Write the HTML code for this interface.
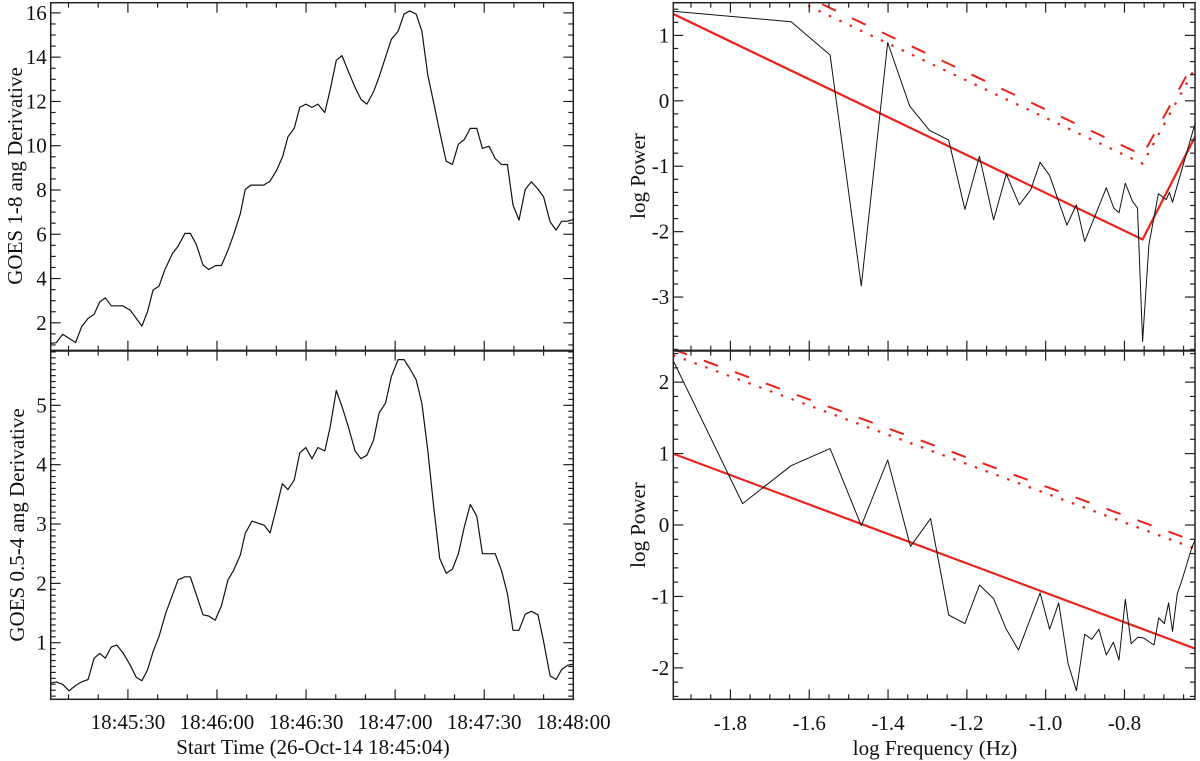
<!DOCTYPE html>
<html><head><meta charset="utf-8"><style>
body{margin:0;background:#fff}
svg{display:block;font-family:"Liberation Serif",serif}
</style></head><body>
<svg id="fig" width="1200" height="761" viewBox="0 0 1200 761" xmlns="http://www.w3.org/2000/svg"></svg>
<script>
// ---- data ----
const timeA = [4,5.9,8,12.4,14.4,16.6,18.6,20.5,22.4,24.4,28.2,30.8,34.7,36.6,38.5,40.5,42.4,45,46.9,49.2,51,53,55.3,57.2,59.6,61.5,63.7,65.6,67.9,69.5,71.4,75.7,77.9,80,82.1,83.9,86,87.9,89.9,92,94,96.3,98.1,100.2,102.1,104.3,106.5,108.5,110.5,112.7,114.6,116.8,118.7,121,123,124.9,127.1,129,131,133,135,137.2,139.3,141.3,143.3,145.3,147.5,149.4,151.6,153.7,155.8,157.8,159.7,161.7,163.8,165.9,168.1,170,172.2,174.2,176.1,178,180];
const goes18 = [1.07,1.1,1.48,1.11,1.82,2.2,2.38,2.94,3.13,2.77,2.77,2.57,1.85,2.5,3.48,3.66,4.38,5.13,5.46,6.04,6.04,5.55,4.61,4.41,4.59,4.59,5.28,5.98,6.94,8.02,8.22,8.22,8.4,8.87,9.5,10.4,10.78,11.73,11.88,11.73,11.88,11.5,12.51,13.86,14.07,13.34,12.63,12.09,11.88,12.43,13.11,14.01,14.8,15.17,15.94,16.09,15.94,15.17,13.19,11.94,10.63,9.3,9.15,10.07,10.28,10.78,10.78,9.88,9.98,9.42,9.15,9.15,7.32,6.64,8.02,8.37,8.04,7.69,6.56,6.19,6.59,6.59,6.67];
const timeB = [4,5.9,8,10.2,12.4,14.4,16.6,18.6,20.5,22.4,24.4,26.3,28.5,30.8,32.8,34.7,36.6,38.5,40.5,42.7,45,46.9,49.2,51,53.1,55.3,57.2,59.4,61.5,63.7,65.6,67.9,69.5,71.8,74,75.9,77.9,79.8,82,83.9,86,87.9,89.9,92,94,96.3,98.1,100.2,102.1,104.3,106.5,108.5,110.5,112.7,114.6,116.8,118.7,121,123,124.9,127.1,129,131,133,135,137.2,139.3,141.3,143.3,145.3,147.5,149.4,153.7,155.8,157.8,159.7,161.7,163.8,165.9,168.1,170,172.2,174.2,176.1,178,180];
const goes054 = [0.32,0.34,0.30,0.19,0.28,0.34,0.38,0.74,0.82,0.74,0.93,0.96,0.82,0.62,0.42,0.36,0.54,0.85,1.11,1.49,1.80,2.06,2.11,2.11,1.80,1.47,1.45,1.38,1.62,2.06,2.22,2.48,2.84,3.05,3.01,2.98,2.85,3.23,3.68,3.58,3.74,4.2,4.29,4.1,4.29,4.23,4.63,5.25,4.98,4.63,4.23,4.1,4.16,4.41,4.87,5.04,5.48,5.77,5.77,5.62,5.43,5.03,4.24,3.29,2.42,2.17,2.24,2.5,2.95,3.33,3.13,2.5,2.5,2.22,1.83,1.21,1.21,1.48,1.53,1.47,1.02,0.44,0.38,0.55,0.62,0.64];
const freqA = [-1.946,-1.646,-1.547,-1.468,-1.401,-1.345,-1.295,-1.246,-1.205,-1.168,-1.132,-1.100,-1.067,-1.038,-1.014,-0.990,-0.946,-0.922,-0.901,-0.846,-0.827,-0.814,-0.798,-0.780,-0.767,-0.754,-0.738,-0.714,-0.694,-0.686,-0.678,-0.621];
const powA = [1.37,1.21,0.70,-2.83,0.89,-0.08,-0.45,-0.60,-1.66,-0.85,-1.82,-1.12,-1.59,-1.36,-0.94,-1.14,-1.90,-1.59,-2.15,-1.33,-1.64,-1.71,-1.26,-1.53,-1.64,-3.68,-2.20,-1.42,-1.51,-1.40,-1.55,-0.35];
const fitFreqA = [-1.946,-0.754,-0.621];
const fitA = [1.33,-2.12,-0.55];
const conf99A = [2.55,-0.83,0.62];
const conf95A = [2.43,-0.96,0.50];
const freqB = [-1.946,-1.769,-1.646,-1.547,-1.468,-1.401,-1.343,-1.292,-1.246,-1.205,-1.168,-1.132,-1.100,-1.069,-1.014,-0.990,-0.967,-0.943,-0.922,-0.901,-0.883,-0.865,-0.846,-0.828,-0.814,-0.798,-0.783,-0.766,-0.752,-0.725,-0.713,-0.699,-0.688,-0.678,-0.666,-0.654,-0.630,-0.621];
const powB = [2.31,0.30,0.83,1.07,-0.01,0.91,-0.30,0.09,-1.26,-1.38,-0.84,-1.03,-1.46,-1.75,-0.95,-1.46,-1.09,-1.94,-2.32,-1.53,-1.60,-1.46,-1.82,-1.64,-1.89,-1.04,-1.66,-1.57,-1.58,-1.68,-1.30,-1.38,-1.09,-1.49,-0.96,-0.77,-0.33,-0.21];
const fitFreqB = [-1.946,-0.621];
const fitB = [1.00,-1.73];
const conf99B = [2.46,-0.23];
const conf95B = [2.38,-0.33];
const timeTicks = [30,60,90,120,150,180];
const timeTickLabels = ["18:45:30","18:46:00","18:46:30","18:47:00","18:47:30","18:48:00"];
const freqTicks = [-1.8,-1.6,-1.4,-1.2,-1.0,-0.8];
const freqTickLabels = ["-1.8","-1.6","-1.4","-1.2","-1.0","-0.8"];

const NS="http://www.w3.org/2000/svg";
const svg=document.getElementById('fig');
function mk(tag,attrs,parent){const e=document.createElementNS(NS,tag);for(const k in attrs)e.setAttribute(k,attrs[k]);(parent||svg).appendChild(e);return e;}
let clipN=0;
function panel(name,x0,x1,y0,y1,xmin,xmax,ymin,ymax){
  const g=mk('g',{});
  
  
  const sx=v=>x0+(v-xmin)/(xmax-xmin)*(x1-x0);
  const sy=v=>y1-(v-ymin)/(ymax-ymin)*(y1-y0);
  const id='c'+(clipN++);
  const cp=mk('clipPath',{id:id},g);mk('rect',{x:x0,y:y0,width:x1-x0,height:y1-y0},cp);
  return {g,sx,sy,x0,x1,y0,y1,xmin,xmax,ymin,ymax,clip:'url(#'+id+')'};
}
function frame(p){
  const r=mk('rect',{x:p.x0,y:p.y0,width:p.x1-p.x0,height:p.y1-p.y0,fill:'none',stroke:'#222','stroke-width':1.5},p.g);
  
  
}
function yticks(p,major,minor,labels){
  const s=Math.ceil(p.ymin/minor-1e-6);
  for(let k=s;k*minor<=p.ymax+1e-9;k++){
    const v=k*minor;const y=p.sy(v);
    const isMaj=Math.abs(v/major-Math.round(v/major))<1e-6;
    const L=isMaj?10:5;
    mk('line',{x1:p.x0,x2:p.x0+L,y1:y,y2:y,stroke:'#222','stroke-width':1.2},p.g);
    mk('line',{x1:p.x1,x2:p.x1-L,y1:y,y2:y,stroke:'#222','stroke-width':1.2},p.g);
  }
  labels.forEach(l=>{
    const t=mk('text',{x:p.x0-4,y:p.sy(l.v)+7,'text-anchor':'end','font-size':21,fill:'#111'},p.g);
    t.textContent=l.t;
    
    
  });
}
function xticks(p,majors,minor){
  const s=Math.ceil(p.xmin/minor-1e-6);
  for(let k=s;k*minor<=p.xmax+1e-9;k++){
    const v=k*minor;const x=p.sx(v);
    const isMaj=majors.some(m=>Math.abs(m-v)<1e-6);
    const L=isMaj?10:5;
    mk('line',{x1:x,x2:x,y1:p.y1,y2:p.y1-L,stroke:'#222','stroke-width':1.2},p.g);
    mk('line',{x1:x,x2:x,y1:p.y0,y2:p.y0+L,stroke:'#222','stroke-width':1.2},p.g);
  }
}
function xlabels(p,vals,labels,y){
  vals.forEach((v,i)=>{
    const t=mk('text',{x:p.sx(v),y:y,'text-anchor':'middle','font-size':21,fill:'#111'},p.g);
    t.textContent=labels[i];
    
    
  });
}
function line(p,xs,ys,attrs,name){
  const pts=xs.map((x,i)=>p.sx(x).toFixed(1)+','+p.sy(ys[i]).toFixed(1)).join(' ');
  const a=Object.assign({points:pts,fill:'none','clip-path':p.clip,'stroke-linejoin':'round'},attrs);
  const e=mk('polyline',a,p.g);
  
  
}
function ytitle(x,y,txt,name){
  const t=mk('text',{x:x,y:y,'text-anchor':'middle','font-size':21,fill:'#111',transform:'rotate(-90 '+x+' '+y+')'});
  t.textContent=txt;
  
  
}
function xtitle(x,y,txt,name){
  const t=mk('text',{x:x,y:y,'text-anchor':'middle','font-size':21,fill:'#111'});
  t.textContent=txt;
  
  
}
const RED='#e8231c';
const DASH={stroke:RED,'stroke-width':2,'stroke-dasharray':'15 18'};
const DOT={stroke:RED,'stroke-width':2.2,'stroke-dasharray':'2.5 9'};
// Left top
const p1=panel('goes-1-8-panel',50.7,573.3,2.7,350.7,4,180,0.74,16.46);
line(p1,timeA,goes18,{stroke:'#111','stroke-width':1.2},'goes-1-8-derivative-line');
yticks(p1,2,0.5,[2,4,6,8,10,12,14,16].map(v=>({v,t:String(v)})));
xticks(p1,timeTicks,10);frame(p1);
ytitle(22,176,'GOES 1-8 ang Derivative','y-axis-title-top-left');
// Left bottom
const p2=panel('goes-0.5-4-panel',50.7,573.3,350.7,699.3,4,180,0.047,5.92);
line(p2,timeB,goes054,{stroke:'#111','stroke-width':1.2},'goes-0.5-4-derivative-line');
yticks(p2,1,0.1,[1,2,3,4,5].map(v=>({v,t:String(v)})));
xticks(p2,timeTicks,10);frame(p2);
xlabels(p2,timeTicks,timeTickLabels,729);
ytitle(24,525,'GOES 0.5-4 ang Derivative','y-axis-title-bottom-left');
xtitle(313,754,'Start Time (26-Oct-14 18:45:04)','x-axis-title-left');
// Right top
const p3=panel('power-spectrum-1-8-panel',673.3,1195,2.7,350.7,-1.945,-0.621,-3.82,1.50);
line(p3,fitFreqA,conf99A,DASH,'confidence-99-dashed');
line(p3,fitFreqA,conf95A,DOT,'confidence-95-dotted');
line(p3,fitFreqA,fitA,{stroke:RED,'stroke-width':2.2},'power-law-fit-line');
line(p3,freqA,powA,{stroke:'#111','stroke-width':1},'power-spectrum-line');
yticks(p3,1,0.2,[1,0,-1,-2,-3].map(v=>({v,t:String(v)})));
xticks(p3,freqTicks,0.05);frame(p3);
ytitle(645,176,'log Power','y-axis-title-top-right');
// Right bottom
const p4=panel('power-spectrum-0.5-4-panel',673.3,1195,350.7,699.3,-1.945,-0.621,-2.44,2.44);
line(p4,fitFreqB,conf99B,DASH,'confidence-99-dashed');
line(p4,fitFreqB,conf95B,DOT,'confidence-95-dotted');
line(p4,fitFreqB,fitB,{stroke:RED,'stroke-width':2.2},'power-law-fit-line');
line(p4,freqB,powB,{stroke:'#111','stroke-width':1},'power-spectrum-line');
yticks(p4,1,0.2,[2,1,0,-1,-2].map(v=>({v,t:String(v)})));
xticks(p4,freqTicks,0.05);frame(p4);
xlabels(p4,freqTicks,freqTickLabels,730);
ytitle(645,525,'log Power','y-axis-title-bottom-right');
xtitle(935,755,'log Frequency (Hz)','x-axis-title-right');
// divider lines
mk('line',{x1:50.7,x2:573.3,y1:350.7,y2:350.7,stroke:'#222','stroke-width':2.2});
mk('line',{x1:673.3,x2:1195,y1:350.7,y2:350.7,stroke:'#222','stroke-width':2.2});
</script>
</body></html>
